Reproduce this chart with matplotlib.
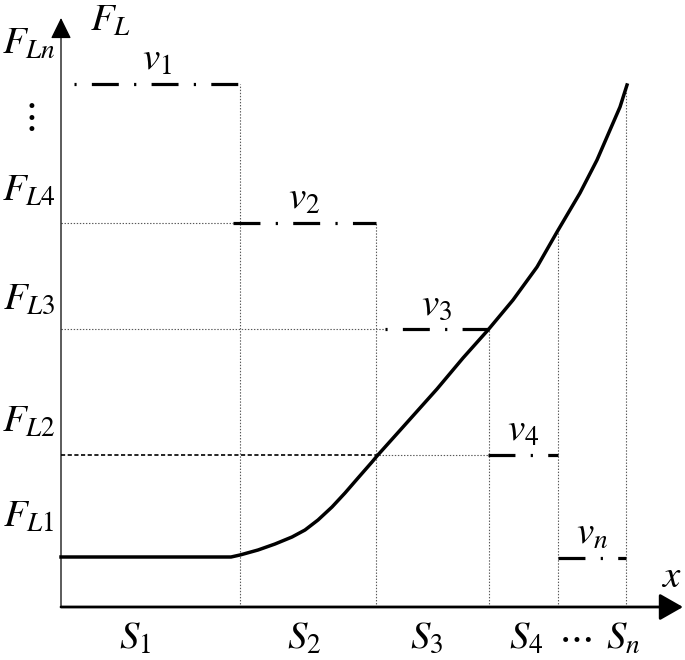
import matplotlib.pyplot as plt

plt.rcParams['mathtext.fontset'] = 'stix'
plt.rcParams['font.family'] = 'STIXGeneral'
plt.rcParams['lines.scale_dashes'] = False

# segment boundaries on the x axis (S1 .. Sn)
s_bounds = [0.0, 1.79, 3.15, 4.28, 4.97, 5.65]
s_labels = ['$S_1$', '$S_2$', '$S_3$', '$S_4$', '$S_n$']
s_label_x = [0.74, 2.43, 3.66, 4.65, 5.62]

# force levels
f_levels = [0.50, 1.52, 2.78, 3.84, 5.23]
f_labels = ['$F_{L1}$', '$F_{L2}$', '$F_{L3}$', '$F_{L4}$', '$F_{Ln}$']
f_label_y = [0.89, 1.84, 3.07, 4.15, 5.62]

# speed steps
v_start = [0.13, 1.72, 3.24, 4.27, 4.97]
v_end = [1.79, 3.15, 4.28, 4.97, 5.65]
v_level = [5.23, 3.84, 2.78, 1.52, 0.49]
v_labels = ['$v_1$', '$v_2$', '$v_3$', '$v_4$', '$v_n$']
v_starts_with_dot = [True, False, True, False, False]

# height of the vertical guide at each boundary
guide_top = [5.23, 3.84, 2.78, 3.74, 5.22]

# load curve F_L(x)
curve_x = [0.0, 1.70, 1.79, 1.97, 2.14, 2.31, 2.44, 2.57, 2.71, 2.84, 2.97,
           3.11, 3.16, 3.42, 3.76, 4.02, 4.27, 4.52, 4.76, 4.96, 5.19, 5.36,
           5.49, 5.59, 5.66]
curve_y = [0.50, 0.50, 0.52, 0.57, 0.63, 0.70, 0.77, 0.87, 1.00, 1.14, 1.29,
           1.45, 1.51, 1.80, 2.18, 2.49, 2.77, 3.07, 3.40, 3.75, 4.14, 4.47,
           4.77, 5.00, 5.22]

fig = plt.figure(figsize=(6.85, 6.60), dpi=100)
ax = fig.add_axes([0, 0, 1, 1])
ax.set_xlim(-0.61, 6.24)
ax.set_ylim(-0.53, 6.07)
ax.axis('off')

thin = dict(color='0.35', lw=0.8, linestyle=(0, (1, 1.2)))

# vertical guides
for xb, top in zip(s_bounds[1:], guide_top):
    ax.plot([xb, xb], [0, top], **thin)

# horizontal guides
ax.plot([0, v_start[1]], [f_levels[3], f_levels[3]], **thin)
ax.plot([0, v_start[2]], [f_levels[2], f_levels[2]], **thin)
ax.plot([s_bounds[2], s_bounds[3]], [f_levels[1], f_levels[1]], **thin)
ax.plot([0, s_bounds[2]], [f_levels[1], f_levels[1]], color='k', lw=1.2,
        linestyle=(0, (3, 1.8)))

# speed steps
for x0, x1, lev, lab, dot in zip(v_start, v_end, v_level, v_labels, v_starts_with_dot):
    off = 30.5 if dot else 0
    ax.plot([x0, x1], [lev, lev], color='k', lw=2.3,
            linestyle=(off, (19.4, 11, 1.6, 11)))
    ax.text((x0 + x1) / 2, lev + 0.23, lab, fontsize=28, ha='center', va='center')

# load curve
ax.plot(curve_x, curve_y, color='k', lw=2.5, solid_joinstyle='round')

# axes with arrows
ax.annotate('', xy=(6.22, 0), xytext=(0, 0),
            arrowprops=dict(arrowstyle='-|>,head_length=0.72,head_width=0.41',
                            mutation_scale=20, lw=2, color='k',
                            shrinkA=0, shrinkB=0))
ax.annotate('', xy=(0, 5.89), xytext=(0, 0),
            arrowprops=dict(arrowstyle='-|>,head_length=0.65,head_width=0.32',
                            mutation_scale=20, lw=0.9, color='k',
                            shrinkA=0, shrinkB=0))

# labels
for y, lab in zip(f_label_y, f_labels):
    ax.text(-0.32, y, lab, fontsize=28, ha='center', va='center')
ax.text(-0.33, 4.89, r'$\vdots$', fontsize=28, ha='center', va='center')
ax.text(0.49, 5.85, '$F_L$', fontsize=28, ha='center', va='center')
ax.text(6.10, 0.29, '$x$', fontsize=28, ha='center', va='center')

for xs, lab in zip(s_label_x, s_labels):
    ax.text(xs, -0.32, lab, fontsize=28, ha='center', va='center')
ax.text(5.14, -0.31, r'$\cdots$', fontsize=28, ha='center', va='center')

fig.savefig('out.png', dpi=100)
